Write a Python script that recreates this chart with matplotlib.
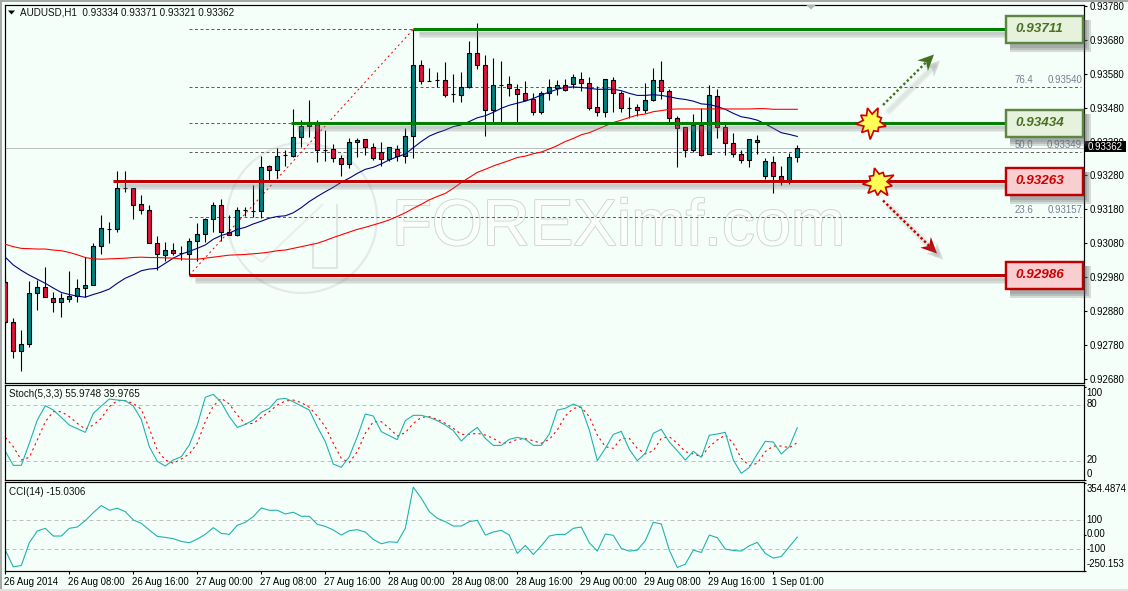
import matplotlib
matplotlib.use('Agg')
import matplotlib.pyplot as plt
import numpy as np
from matplotlib.patches import Circle, Polygon, Rectangle
from matplotlib.patheffects import withStroke
from matplotlib.transforms import ScaledTranslation

plt.rcParams['font.family'] = ['Liberation Sans', 'DejaVu Sans']

# prices are in points (1e-5)
opens = [92967, 92847, 92762, 92783, 92933, 92951, 92918, 92906, 92915, 92924,
         92948, 92956, 93071, 93121, 93121, 93242, 93242, 93195, 93177, 93080,
         93045, 93060, 93051, 93048, 93086, 93107, 93151, 93192, 93113, 93104,
         93177, 93174, 93174, 93307, 93295, 93339, 93336, 93392, 93425, 93439,
         93355, 93357, 93331, 93313, 93378, 93387, 93363, 93348, 93328, 93357,
         93336, 93395, 93605, 93557, 93560, 93560, 93521, 93518, 93540, 93640,
         93607, 93472, 93547, 93549, 93536, 93522, 93504, 93466, 93522, 93539,
         93546, 93551, 93563, 93554, 93481, 93468, 93560, 93522, 93480, 93481,
         93474, 93501, 93560, 93528, 93448, 93422, 93354, 93428, 93342, 93513,
         93422, 93377, 93342, 93325, 93384, 93278, 93319, 93278, 93260, 93334]
highs = [92987, 92859, 92825, 92969, 92972, 93011, 92936, 92933, 92999, 92974,
         93039, 93080, 93164, 93144, 93293, 93293, 93242, 93222, 93192, 93101,
         93083, 93082, 93071, 93095, 93139, 93154, 93201, 93210, 93164, 93186,
         93188, 93251, 93337, 93310, 93360, 93355, 93476, 93442, 93502, 93442,
         93414, 93372, 93339, 93389, 93389, 93387, 93375, 93378, 93363, 93369,
         93419, 93711, 93619, 93596, 93584, 93614, 93578, 93584, 93675, 93728,
         93634, 93625, 93617, 93572, 93549, 93557, 93522, 93530, 93563, 93560,
         93563, 93578, 93584, 93569, 93543, 93563, 93569, 93530, 93510, 93490,
         93554, 93596, 93617, 93534, 93454, 93422, 93460, 93478, 93546, 93536,
         93434, 93404, 93355, 93387, 93399, 93331, 93337, 93308, 93347, 93371]
lows = [92840, 92743, 92702, 92773, 92882, 92921, 92876, 92864, 92908, 92908,
        92921, 92956, 93048, 93080, 93113, 93230, 93153, 93166, 93080, 93002,
        93028, 93045, 93031, 92986, 93028, 93083, 93113, 93086, 93104, 93101,
        93159, 93157, 93154, 93263, 93272, 93309, 93333, 93363, 93392, 93321,
        93324, 93321, 93277, 93301, 93335, 93341, 93326, 93309, 93324, 93324,
        93316, 93331, 93551, 93557, 93542, 93512, 93497, 93496, 93537, 93595,
        93397, 93434, 93434, 93514, 93434, 93498, 93459, 93462, 93502, 93517,
        93530, 93539, 93530, 93474, 93456, 93453, 93467, 93466, 93448, 93456,
        93465, 93500, 93506, 93439, 93306, 93333, 93350, 93337, 93342, 93390,
        93340, 93335, 93318, 93306, 93343, 93270, 93229, 93252, 93254, 93321]
closes = [92847, 92762, 92783, 92933, 92951, 92921, 92906, 92918, 92924, 92948,
          92956, 93071, 93124, 93121, 93242, 93242, 93192, 93177, 93080, 93048,
          93060, 93051, 93051, 93086, 93107, 93151, 93192, 93113, 93104, 93177,
          93177, 93174, 93304, 93295, 93336, 93339, 93392, 93425, 93439, 93354,
          93355, 93331, 93313, 93378, 93384, 93363, 93331, 93328, 93363, 93336,
          93395, 93605, 93557, 93557, 93560, 93518, 93521, 93540, 93640, 93607,
          93472, 93546, 93547, 93537, 93521, 93502, 93466, 93522, 93540, 93546,
          93531, 93569, 93553, 93480, 93468, 93563, 93522, 93478, 93480, 93474,
          93501, 93560, 93528, 93448, 93419, 93354, 93428, 93340, 93516, 93422,
          93375, 93342, 93325, 93387, 93378, 93322, 93278, 93260, 93333, 93362]

ma_blue = [93039, 93016, 93000, 92986, 92974, 92962, 92948, 92935, 92929, 92924,
           92921, 92929, 92936, 92945, 92962, 92977, 92987, 92999, 93004, 93006,
           93021, 93036, 93048, 93056, 93065, 93075, 93092, 93103, 93110, 93121,
           93127, 93137, 93145, 93154, 93159, 93161, 93170, 93185, 93203, 93218,
           93232, 93245, 93260, 93272, 93286, 93298, 93304, 93314, 93326, 93335,
           93343, 93362, 93380, 93396, 93406, 93414, 93424, 93429, 93439, 93450,
           93456, 93466, 93478, 93487, 93493, 93499, 93507, 93517, 93526, 93534,
           93540, 93541, 93539, 93537, 93534, 93534, 93534, 93530, 93522, 93516,
           93516, 93518, 93516, 93512, 93507, 93504, 93499, 93491, 93489, 93483,
           93475, 93463, 93453, 93449, 93443, 93432, 93419, 93406, 93401, 93395]
ma_red = [93077, 93070, 93065, 93064, 93063, 93063, 93060, 93058, 93053, 93046,
          93038, 93034, 93033, 93034, 93035, 93036, 93038, 93039, 93038, 93038,
          93037, 93036, 93034, 93033, 93033, 93036, 93039, 93042, 93045, 93046,
          93047, 93049, 93051, 93054, 93058, 93060, 93065, 93070, 93075, 93080,
          93088, 93097, 93105, 93113, 93121, 93127, 93134, 93141, 93149, 93159,
          93170, 93183, 93195, 93208, 93218, 93227, 93242, 93259, 93274, 93289,
          93298, 93308, 93316, 93324, 93333, 93337, 93344, 93349, 93358, 93368,
          93380, 93389, 93400, 93406, 93416, 93426, 93436, 93443, 93451, 93458,
          93461, 93468, 93471, 93475, 93476, 93476, 93476, 93476, 93476, 93476,
          93476, 93476, 93476, 93476, 93477, 93477, 93475, 93475, 93475, 93475]

stoch_main = [30.7, 15.7, 15.7, 39.3, 64.3, 79.6, 75, 67.1, 58.9, 55,
              51.1, 71.4, 79.3, 86.8, 85.7, 85, 79.3, 65, 35.7, 20,
              15, 21.4, 25, 37.5, 58.9, 88.6, 91.8, 82.9, 67.9, 56.4,
              59.6, 64.3, 72.5, 76.8, 86.4, 87.5, 83.9, 79.3, 75, 57.1,
              41.1, 17.1, 13.6, 25, 46.4, 70.7, 68.6, 51.8, 47.5, 43.2,
              63.6, 69.3, 69.3, 67.1, 63.6, 58.9, 52.9, 41.8, 50, 56.4,
              44.6, 37.1, 37.1, 43.6, 45.7, 43.6, 37.1, 37.1, 49.3, 75,
              76.8, 81.4, 77.9, 53.6, 20.7, 33.9, 48.9, 52.1, 32.9, 20.7,
              28.6, 50, 54.3, 40.7, 31.4, 21.4, 30.7, 24.3, 47.9, 49.3,
              51.1, 21.4, 7.1, 13.6, 27.9, 41.4, 40.7, 27.9, 35.7, 55.97]
stoch_signal = [45.7, 35.7, 21.4, 24.3, 42.9, 62.5, 73.2, 73.2, 67.9, 60.7,
                54.6, 58.9, 66.1, 78.6, 85, 85, 82.1, 75.7, 55.4, 32.1,
                21.4, 17.9, 22.5, 27.9, 39.3, 62.5, 79.3, 87.5, 81.4, 69.6,
                60, 60.7, 67.1, 73.2, 80.4, 84.6, 85.7, 82.9, 77.9, 68.6,
                57.1, 39.3, 23.2, 18.6, 30.4, 50, 62.5, 62.5, 55.4, 47.1,
                50.7, 60.7, 67.1, 67.9, 65, 60.7, 55.4, 48.9, 48.9, 50,
                48.2, 44.6, 39.3, 40, 43.6, 44.3, 42.1, 39.3, 43.6, 53.6,
                68.6, 76.8, 77.9, 67.9, 48.2, 35.7, 33.9, 44.6, 44.6, 33.9,
                27.9, 31.4, 44.6, 46.4, 39.3, 30.4, 27.9, 25, 35.7, 42.9,
                48.2, 39.3, 23.2, 15.4, 17.9, 30.4, 36.4, 36.4, 34.6, 39.98]
cci = [-104.6, -219.5, -210.3, -54, 26.4, 44.8, -8, -8, 44.8, 54,
       97.7, 152.9, 201.1, 169, 182.8, 159.8, 102.3, 79.3, 33.3, -10.3,
       -17.2, -26.4, -44.8, -54, -28.7, 3.4, 49.4, 10.3, 3.4, 65.5,
       86.2, 125.3, 185.1, 169, 169, 143.7, 155.2, 127.6, 127.6, 72.4,
       58.6, 33.3, -1.1, 28.7, 35.6, 19.5, -31, -60.9, -47.1, -51.7,
       44.8, 327.6, 251.7, 159.8, 113.8, 90.8, 60.9, 60.9, 90.8, 100,
       -1.1, 19.5, 31, -1.1, -127.6, -72.4, -134.5, -74.7, -8, 3.4,
       3.4, 44.8, 54, -54, -111.5, 5.7, -3.4, -93.1, -111.5, -104.6,
       -40.2, 86.2, 74.7, -104.6, -224.1, -201.1, -104.6, -120.7, -1.1, -19.5,
       -97.7, -106.9, -111.5, -74.7, -51.7, -127.6, -159.8, -148.3, -81.6, -15.03]

price_ticks = [93780, 93680, 93580, 93480, 93380, 93280, 93180, 93080, 92980, 92880, 92780, 92680]
time_ticks = [0, 8, 16, 24, 32, 40, 48, 56, 64, 72, 80, 88, 96]
time_labels = ['26 Aug 2014', '26 Aug 08:00', '26 Aug 16:00', '27 Aug 00:00', '27 Aug 08:00',
               '27 Aug 16:00', '28 Aug 00:00', '28 Aug 08:00', '28 Aug 16:00', '29 Aug 00:00',
               '29 Aug 08:00', '29 Aug 16:00', '1 Sep 01:00']

fib_pct = ['76.4', '50.0', '23.6']
fib_prices = [93711, 93540, 93434, 93349, 93157, 92986]
fib_labels = [93540, 93349, 93157]
green_levels = [93711, 93434]
green_starts = [51, 35.7]
red_levels = [93263, 92986]
red_starts = [13.5, 23]
last_price = 93362

W, H = 1128, 591
BG = '#F5FFFA'
TEAL = '#008080'
CRIMSON = '#DC143C'
GREEN = '#008000'
DARKRED = '#C00000'
TXT = 6.9  # tick font size
PX = 0.72  # one pixel in points

fig = plt.figure(figsize=(W / 100, H / 100), dpi=100, facecolor=BG)


def pane(left, top, right, bottom, z=1):
    ax = fig.add_axes([left / W, 1 - bottom / H, (right - left) / W, (bottom - top) / H], zorder=z)
    ax.patch.set_alpha(0)
    for s in ax.spines.values():
        s.set_linewidth(1.0 * PX * 1.2)
    return ax


# back layer: window edge and watermark
back = fig.add_axes([0, 0, 1, 1], zorder=0)
back.set_xlim(0, W)
back.set_ylim(H, 0)
back.axis('off')
back.add_patch(Rectangle((0, 0), W, 1.5, fc='#A8A8A8', ec='none'))
back.add_patch(Rectangle((0, 0), 2, H, fc='#A8A8A8', ec='none'))
back.add_patch(Rectangle((0, H - 2), W, 2, fc='#E0E0E0', ec='none'))
back.add_patch(Circle((302, 218), 75, fc='none', ec='#E4EAE7', lw=1.6))
back.plot([313, 313, 337, 337], [243, 268, 268, 205], color='#E0E6E3', lw=1.4)
back.plot([245, 262, 322], [250, 262, 205], color='#E8EEEB', lw=1.4)
back.text(392, 245, 'FOREXimf.com', fontsize=47, color='#FAFFFC', va='baseline',
          path_effects=[withStroke(linewidth=1.3, foreground='#CDD5D2')])

ax = pane(4.5, 4.5, 1083.7, 383)
ax2 = pane(4.5, 385, 1083.7, 480)
ax3 = pane(4.5, 482.3, 1083.7, 571.3)

for a in (ax, ax2, ax3):
    a.set_xlim(-0.1, 134.8)

ax.set_ylim(0.92668, 0.93784)
bars = np.arange(len(closes))
o = np.array(opens) / 1e5
h = np.array(highs) / 1e5
l = np.array(lows) / 1e5
c = np.array(closes) / 1e5

PER_PX = 0.001 / 33.94  # price per pixel on the main pane

# fibo levels and the current price line go under the candles
ax.axhline(last_price / 1e5, color='#BEBEBE', lw=1 * PX, zorder=1)
ax.hlines(np.array(fib_prices) / 1e5, 23, 134.5, color='#606060', lw=1 * PX,
          linestyles=[(0, (3, 2.5))], zorder=1)
ax.plot([23, 51], [fib_prices[-1] / 1e5, fib_prices[0] / 1e5], color='red', lw=1 * PX,
        ls=(0, (2, 3)), zorder=1)
for pct, val in zip(fib_pct, fib_labels):
    ax.text(126.2, val / 1e5 + 2.2 * PER_PX, pct, fontsize=TXT, color='#708090', va='bottom', zorder=1)
    ax.text(134.6, val / 1e5 + 2.2 * PER_PX, f'{val / 1e5:.5f}', fontsize=TXT, color='#708090',
            va='bottom', ha='right', zorder=1)

# candles
ax.vlines(bars, l, h, color='black', lw=1 * PX * 1.1, zorder=2)
body_col = [TEAL if cl > op else CRIMSON for op, cl in zip(opens, closes)]
ax.bar(bars, c - o, bottom=o, width=0.54, color=body_col, edgecolor='black', linewidth=1 * PX * 1.1, zorder=3)

ax.plot(bars, np.array(ma_blue) / 1e5, color='#000080', lw=1.1 * PX, zorder=4)
ax.plot(bars, np.array(ma_red) / 1e5, color='#FF0000', lw=1.1 * PX, zorder=4)


def level_line(val, start, col):
    # soft shadow under the line, then the line
    y = val / 1e5
    for off, wid in ((5, 7), (4.5, 5), (4, 3)):
        ax.plot([start + 0.7, 125], [y - off * PER_PX] * 2, color='#808080', alpha=0.15,
                lw=wid * PX, solid_capstyle='butt', zorder=5)
    ax.plot([start, 125], [y, y], color=col, lw=3 * PX, solid_capstyle='butt', zorder=6)


for val, st in zip(green_levels, green_starts):
    level_line(val, st, GREEN)
for val, st in zip(red_levels, red_starts):
    level_line(val, st, DARKRED)

ax.yaxis.tick_right()
ax.set_yticks(np.array(price_ticks) / 1e5)
ax.set_yticklabels([f'{v / 1e5:.5f}' for v in price_ticks], fontsize=TXT)
ax.tick_params(axis='y', length=2.4, width=0.8, pad=2)
ax.set_xticks([])

# stochastic pane
ax2.set_ylim(0, 101.8)
ax2.axhline(80, color='#C0C0C0', lw=1 * PX, ls=(0, (4, 3)))
ax2.axhline(20, color='#C0C0C0', lw=1 * PX, ls=(0, (4, 3)))
ax2.plot(bars, stoch_signal, color='red', lw=1.1 * PX, ls=(0, (2, 3)))
ax2.plot(bars, stoch_main, color='#20B2AA', lw=1.1 * PX)
ax2.set_xticks([])
ax2.yaxis.tick_right()
ax2.set_yticks([100, 0])
ax2.set_yticklabels([])
ax2.tick_params(axis='y', length=1.5, width=0.8)

# CCI pane
ax3.set_ylim(-250.153, 361)
ax3.axhline(100, color='#C0C0C0', lw=1 * PX, ls=(0, (4, 3)))
ax3.axhline(-100, color='#C0C0C0', lw=1 * PX, ls=(0, (4, 3)))
ax3.plot(bars, cci, color='#20B2AA', lw=1.1 * PX)
ax3.yaxis.tick_right()
ax3.set_yticks([354.4874, 0, -250.153])
ax3.set_yticklabels([])
ax3.tick_params(axis='y', length=1.5, width=0.8)
ax3.set_xticks(time_ticks)
ax3.set_xticklabels(time_labels, fontsize=TXT, ha='left')
ax3.tick_params(axis='x', length=2.4, width=0.8, pad=2)
shift = ScaledTranslation(-1.5 / 100, 0, fig.dpi_scale_trans)
for lab in ax3.get_xticklabels():
    lab.set_transform(lab.get_transform() + shift)

# front layer: notes drawn on top of the panes
top = fig.add_axes([0, 0, 1, 1], zorder=3)
top.set_xlim(0, W)
top.set_ylim(H, 0)
top.axis('off')


def price_y(val):
    return 5.67 + (93780 - val) * 0.3394


top.text(20, 12.5, 'AUDUSD,H1  0.93334 0.93371 0.93321 0.93362', fontsize=7.1, va='center', color='#101010')
top.add_patch(Polygon([(8, 10.5), (15, 10.5), (11.5, 14.5)], fc='black', ec='none'))
top.add_patch(Polygon([(806, 4.8), (816, 4.8), (811, 9.5)], fc='#B4B4B4', ec='none'))
top.text(9.3, 394.3, 'Stoch(5,3,3) 55.9748 39.9765', fontsize=7.1, va='center', color='#101010')
top.text(9.3, 491.7, 'CCI(14) -15.0306', fontsize=7.1, va='center', color='#101010')

for val, lab_y in ((100, 392.7), (80, 404.3), (20, 460.3), (0, 473.7)):
    top.text(1086.5, lab_y, str(val), fontsize=TXT, va='center')
for lab, lab_y in (('354.4874', 489), ('100', 519.7), ('0.00', 534.3), ('-100', 548.7), ('-250.153', 564.3)):
    top.text(1086.5, lab_y, lab, fontsize=TXT, va='center')

# current price tag
top.add_patch(Rectangle((1085, 141.2), 41, 11, fc='black', ec='none'))
top.text(1105.5, 146.9, f'{last_price / 1e5:.5f}', color='white', fontsize=TXT, ha='center', va='center')


def level_box(val, edge, fill, txt_col):
    y = price_y(val)
    for off, grow in ((6.5, 1.5), (5.5, 0.5), (4.5, -0.5)):
        top.add_patch(Rectangle((1005 + off - grow, y - 14.5 + off - grow), 78 + 2 * grow, 29 + 2 * grow,
                                fc='#606060', ec='none', alpha=0.22))
    top.add_patch(Rectangle((1006, y - 13.5), 76.5, 27, fc=fill, ec=edge, lw=2.2 * PX * 1.1))
    top.text(1039.5, y, f'{val / 1e5:.5f}', fontsize=9.7, style='italic', weight='bold', color=txt_col,
             ha='center', va='center', family='Liberation Sans')


for val in green_levels:
    level_box(val, '#5F8545', '#E6F2DC', '#4A7023')
for val in red_levels:
    level_box(val, DARKRED, '#F9CED1', '#CC0000')


def burst(cx, cy, radii):
    ang = np.linspace(0, 2 * np.pi, len(radii), endpoint=False) + 0.25
    pts = [(cx + r * np.cos(t), cy + r * np.sin(t)) for r, t in zip(radii, ang)]
    top.add_patch(Polygon(pts, closed=True, fc='#FFFF55', ec='#CC0000', lw=1.7 * PX, joinstyle='miter'))


burst_radii = [15, 8.5, 11, 8.5, 17, 8.5, 14, 8.5, 16, 8.5, 13, 8.5, 15, 8.5, 16, 8.5, 11, 8.5]
burst(871.5, 122.5, burst_radii)
burst(878.5, 182.5, burst_radii[6:] + burst_radii[:6])


def dotted_arrow(x0, y0, x1, y1, col):
    d = np.array([x1 - x0, y1 - y0], float)
    d = d / np.hypot(*d)
    n = np.array([-d[1], d[0]])
    tip = np.array([x1, y1])
    base = tip - d * 16
    head = [tip, base + n * 7.5, tip - d * 11, base - n * 7.5]
    sh = np.array([6, 6])
    # shadow first
    for wid in (7, 4):
        top.plot([x0 + sh[0], x1 - d[0] * 8 + sh[0]], [y0 + sh[1], y1 - d[1] * 8 + sh[1]],
                 color='#808080', alpha=0.1, lw=wid * PX, solid_capstyle='round')
    top.add_patch(Polygon([p + sh for p in head], fc='#707070', ec='none', alpha=0.25))
    top.plot([x0, tip[0] - d[0] * 11], [y0, tip[1] - d[1] * 11], color=col, lw=2.4 * PX, ls=(0, (1, 1)))
    top.add_patch(Polygon(head, fc=col, ec='none'))


dotted_arrow(883, 105, 934, 54.5, '#44701F')
dotted_arrow(883, 200.5, 937, 253.5, DARKRED)

fig.savefig('out.png', dpi=100, facecolor=BG)
